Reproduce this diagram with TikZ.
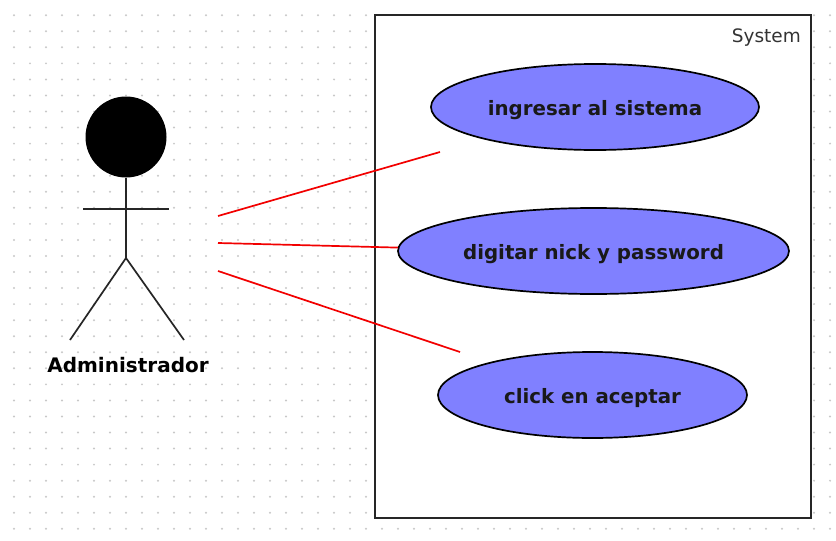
\documentclass[tikz,border=0pt]{standalone}
\usepackage{fontspec}
\setmainfont{DejaVu Sans}
\usetikzlibrary{shapes.geometric}
\definecolor{ucfill}{RGB}{128,128,255}
\definecolor{griddot}{RGB}{200,200,200}
\tikzset{
  usecase/.style={ellipse,draw=black,line width=1.7pt,fill=ucfill,inner sep=0pt,
    text height=16pt,text depth=0pt,
    font=\bfseries\fontsize{19.8pt}{24pt}\selectfont,text=black!90},
  assoc/.style={draw=red!95!black,line width=1.7pt},
  stick/.style={draw=black!85,line width=1.7pt},
  griddotstyle/.style={griddot}
}
\begin{document}
\begin{tikzpicture}[x=1pt,y=-1pt]
\useasboundingbox (0,0) rectangle (836,541);
\fill[white] (0,0) rectangle (836,541);
\foreach \i in {0,...,51}{\foreach \j in {0,...,32}{
  \fill[griddotstyle] ({14+16*\i},{15.2+16.05*\j}) circle (1.1pt);
}}
\node[draw=black!85,fill=white,line width=2.2pt,outer sep=0pt,minimum width=436pt,minimum height=503pt,inner sep=0pt,anchor=north west] (sys) at (375,15) {};
\node[anchor=north east,font=\fontsize{18.5pt}{22pt}\selectfont,text=black!80,inner sep=0pt] (syslabel) at (801,29) {System};
\node[usecase,minimum width=328pt,minimum height=86pt] (uc1) at (595,107) {ingresar al sistema};
\node[usecase,minimum width=391pt,minimum height=86pt] (uc2) at (593.5,251) {digitar nick y password};
\node[usecase,minimum width=309pt,minimum height=86pt] (uc3) at (592.5,395) {click en aceptar};
\coordinate (a1) at (218,216);
\coordinate (a2) at (218,243);
\coordinate (a3) at (218,271);
\coordinate (e1) at (440,152);
\coordinate (e3) at (460,352);
\draw[assoc] (a1) -- (e1);
\draw[assoc] (a2) -- (uc2.179);
\draw[assoc] (a3) -- (e3);
\node[circle,fill=black,minimum size=81pt,inner sep=0pt] (head) at (126,137) {};
\coordinate (hip) at (126,258);
\coordinate (armL) at (83,209);
\coordinate (armR) at (169,209);
\coordinate (footL) at (70,340);
\coordinate (footR) at (184,340);
\draw[stick] (head.south) -- (hip);
\draw[stick] (armL) -- (armR);
\draw[stick] (footL) -- (hip) -- (footR);
\node[font=\bfseries\fontsize{20pt}{24pt}\selectfont,text=black,inner sep=0pt] (actor) at (128,365) {Administrador};
\end{tikzpicture}
\end{document}
